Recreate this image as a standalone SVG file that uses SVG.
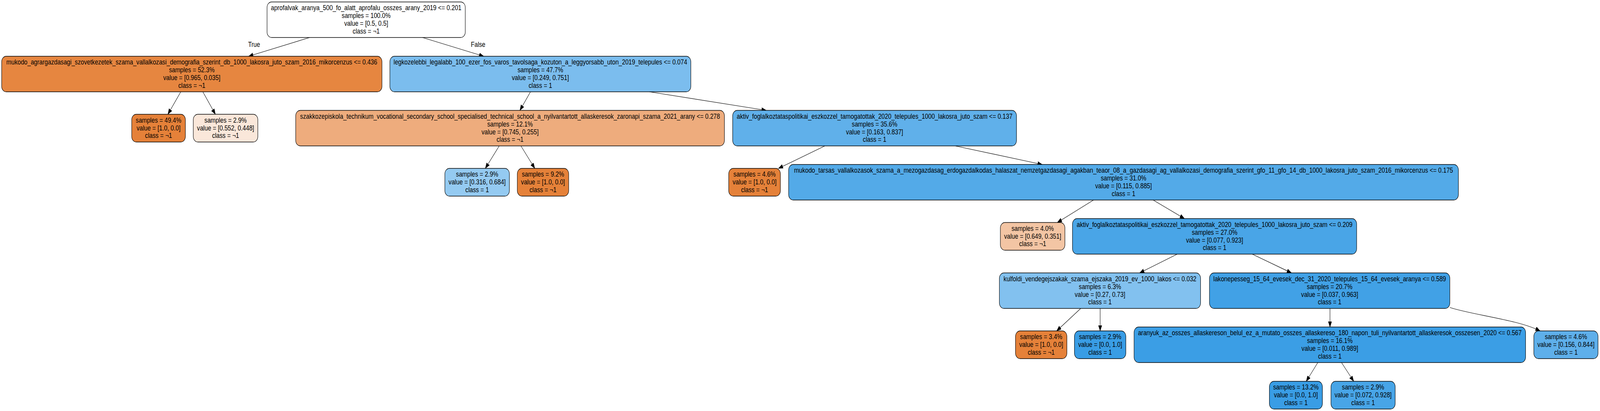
<svg xmlns="http://www.w3.org/2000/svg" width="4859" height="1052" viewBox="0 0 4859 1052" preserveAspectRatio="none" style="width:100vw;height:100vh">
<style>
.n rect{stroke:#000;stroke-width:1.3;rx:14px;ry:14px}
text{font-family:"Liberation Sans",Arial,Helvetica,sans-serif;font-size:18px;fill:#000;text-anchor:middle}
.e path{fill:none;stroke:#000;stroke-width:1.2;marker-end:url(#ah)}
</style>
<defs>
<marker id="ah" markerUnits="userSpaceOnUse" markerWidth="15" markerHeight="11" refX="14" refY="5.2" orient="auto">
<path d="M0,0 L14,5.2 L0,10.4 z" fill="#000" stroke="#000" stroke-width="0.8"/>
</marker>
</defs>
<rect width="4859" height="1052" fill="#fff"/>
<g id="edges" class="e">
<path d="M940.5,96 L755,144"/>
<path d="M1283,96 L1469,144"/>
<path d="M549,235 L510,292.5"/>
<path d="M616,235 L654,292.5"/>
<path d="M1611,235 L1579,282.5"/>
<path d="M1972,235 L2327,282.5"/>
<path d="M1516,373.5 L1474,431"/>
<path d="M1582,373.5 L1624,431"/>
<path d="M2505,373.5 L2364,431"/>
<path d="M2901,373.5 L3165,421"/>
<path d="M3321,512 L3211,569.5"/>
<path d="M3502,512 L3597,559.5"/>
<path d="M3575,650.5 L3461,698.5"/>
<path d="M3803,650.5 L3922,698.5"/>
<path d="M3282,789.5 L3209,847"/>
<path d="M3341,789.5 L3341,847"/>
<path d="M4039,789.5 L4039,837"/>
<path d="M4403,787 C4470,806 4610,818 4677,847"/>
<path d="M4002,928 L3967,976"/>
<path d="M4074,928 L4111,976"/>
<text x="771.6" y="120.5">True</text>
<text x="1452" y="120.5">False</text>
</g>
<g id="node0" class="n"><rect x="811" y="5" width="602" height="91" fill="#ffffff"/>
<text x="1112" y="26.5">aprofalvak_aranya_500_fo_alatt_aprofalu_osszes_arany_2019 &lt;= 0.201</text>
<text x="1112" y="46.3">samples = 100.0%</text>
<text x="1112" y="66.1">value = [0.5, 0.5]</text>
<text x="1112" y="85.9">class = ¬1</text></g>
<g id="node1" class="n"><rect x="5" y="144" width="1155" height="91" fill="#e68640"/>
<text x="582.5" y="165.5">mukodo_agrargazdasagi_szovetkezetek_szama_vallalkozasi_demografia_szerint_db_1000_lakosra_juto_szam_2016_mikorcenzus &lt;= 0.436</text>
<text x="582.5" y="185.3">samples = 52.3%</text>
<text x="582.5" y="205.1">value = [0.965, 0.035]</text>
<text x="582.5" y="224.9">class = ¬1</text></g>
<g id="node2" class="n"><rect x="400" y="292.5" width="163" height="71" fill="#e58139"/>
<text x="481.5" y="313.9">samples = 49.4%</text>
<text x="481.5" y="333.7">value = [1.0, 0.0]</text>
<text x="481.5" y="353.5">class = ¬1</text></g>
<g id="node3" class="n"><rect x="587" y="292.5" width="196" height="71" fill="#fae7da"/>
<text x="685" y="313.9">samples = 2.9%</text>
<text x="685" y="333.7">value = [0.552, 0.448]</text>
<text x="685" y="353.5">class = ¬1</text></g>
<g id="node4" class="n"><rect x="1184" y="144" width="914" height="91" fill="#7bbdee"/>
<text x="1641" y="165.5">legkozelebbi_legalabb_100_ezer_fos_varos_tavolsaga_kozuton_a_leggyorsabb_uton_2019_telepules &lt;= 0.074</text>
<text x="1641" y="185.3">samples = 47.7%</text>
<text x="1641" y="205.1">value = [0.249, 0.751]</text>
<text x="1641" y="224.9">class = 1</text></g>
<g id="node5" class="n"><rect x="898" y="282.5" width="1302" height="91" fill="#eeac7d"/>
<text x="1549" y="304">szakkozepiskola_technikum_vocational_secondary_school_specialised_technical_school_a_nyilvantartott_allaskeresok_zaronapi_szama_2021_arany &lt;= 0.278</text>
<text x="1549" y="323.8">samples = 12.1%</text>
<text x="1549" y="343.6">value = [0.745, 0.255]</text>
<text x="1549" y="363.4">class = ¬1</text></g>
<g id="node6" class="n"><rect x="1351" y="431" width="196" height="71" fill="#94caf1"/>
<text x="1449" y="452.4">samples = 2.9%</text>
<text x="1449" y="472.2">value = [0.316, 0.684]</text>
<text x="1449" y="492">class = 1</text></g>
<g id="node7" class="n"><rect x="1571" y="431" width="156" height="71" fill="#e58139"/>
<text x="1649" y="452.4">samples = 9.2%</text>
<text x="1649" y="472.2">value = [1.0, 0.0]</text>
<text x="1649" y="492">class = ¬1</text></g>
<g id="node8" class="n"><rect x="2225" y="282.5" width="862" height="91" fill="#60b0ea"/>
<text x="2656" y="304">aktiv_foglalkoztataspolitikai_eszkozzel_tamogatottak_2020_telepules_1000_lakosra_juto_szam &lt;= 0.137</text>
<text x="2656" y="323.8">samples = 35.6%</text>
<text x="2656" y="343.6">value = [0.163, 0.837]</text>
<text x="2656" y="363.4">class = 1</text></g>
<g id="node9" class="n"><rect x="2213" y="431" width="157" height="71" fill="#e58139"/>
<text x="2291.5" y="452.4">samples = 4.6%</text>
<text x="2291.5" y="472.2">value = [1.0, 0.0]</text>
<text x="2291.5" y="492">class = ¬1</text></g>
<g id="node10" class="n"><rect x="2395" y="421" width="2034" height="91" fill="#53aae8"/>
<text x="3412" y="442.5">mukodo_tarsas_vallalkozasok_szama_a_mezogazdasag_erdogazdalkodas_halaszat_nemzetgazdasagi_agakban_teaor_08_a_gazdasagi_ag_vallalkozasi_demografia_szerint_gfo_11_gfo_14_db_1000_lakosra_juto_szam_2016_mikorcenzus &lt;= 0.175</text>
<text x="3412" y="462.3">samples = 31.0%</text>
<text x="3412" y="482.1">value = [0.115, 0.885]</text>
<text x="3412" y="501.9">class = 1</text></g>
<g id="node11" class="n"><rect x="3038" y="569.5" width="196" height="71" fill="#f3c5a4"/>
<text x="3136" y="590.9">samples = 4.0%</text>
<text x="3136" y="610.7">value = [0.649, 0.351]</text>
<text x="3136" y="630.5">class = ¬1</text></g>
<g id="node12" class="n"><rect x="3257" y="559.5" width="863" height="91" fill="#49a5e7"/>
<text x="3688.5" y="581">aktiv_foglalkoztataspolitikai_eszkozzel_tamogatottak_2020_telepules_1000_lakosra_juto_szam &lt;= 0.209</text>
<text x="3688.5" y="600.8">samples = 27.0%</text>
<text x="3688.5" y="620.6">value = [0.077, 0.923]</text>
<text x="3688.5" y="640.4">class = 1</text></g>
<g id="node13" class="n"><rect x="3035" y="698.5" width="611" height="91" fill="#82c1ef"/>
<text x="3340.5" y="720">kulfoldi_vendegejszakak_szama_ejszaka_2019_ev_1000_lakos &lt;= 0.032</text>
<text x="3340.5" y="739.8">samples = 6.3%</text>
<text x="3340.5" y="759.6">value = [0.27, 0.73]</text>
<text x="3340.5" y="779.4">class = 1</text></g>
<g id="node14" class="n"><rect x="3084" y="847" width="156" height="71" fill="#e58139"/>
<text x="3162" y="868.4">samples = 3.4%</text>
<text x="3162" y="888.2">value = [1.0, 0.0]</text>
<text x="3162" y="908">class = ¬1</text></g>
<g id="node15" class="n"><rect x="3263" y="847" width="156" height="71" fill="#399de5"/>
<text x="3341" y="868.4">samples = 2.9%</text>
<text x="3341" y="888.2">value = [0.0, 1.0]</text>
<text x="3341" y="908">class = 1</text></g>
<g id="node16" class="n"><rect x="3673" y="698.5" width="730" height="91" fill="#41a1e6"/>
<text x="4038" y="720">lakonepesseg_15_64_evesek_dec_31_2020_telepules_15_64_evesek_aranya &lt;= 0.589</text>
<text x="4038" y="739.8">samples = 20.7%</text>
<text x="4038" y="759.6">value = [0.037, 0.963]</text>
<text x="4038" y="779.4">class = 1</text></g>
<g id="node17" class="n"><rect x="3444" y="837" width="1189" height="91" fill="#3b9ee5"/>
<text x="4038.5" y="858.5">aranyuk_az_osszes_allaskereson_belul_ez_a_mutato_osszes_allaskereso_180_napon_tuli_nyilvantartott_allaskeresok_osszesen_2020 &lt;= 0.567</text>
<text x="4038.5" y="878.3">samples = 16.1%</text>
<text x="4038.5" y="898.1">value = [0.011, 0.989]</text>
<text x="4038.5" y="917.9">class = 1</text></g>
<g id="node18" class="n"><rect x="3855" y="976" width="161" height="71" fill="#399de5"/>
<text x="3935.5" y="997.4">samples = 13.2%</text>
<text x="3935.5" y="1017.2">value = [0.0, 1.0]</text>
<text x="3935.5" y="1037">class = 1</text></g>
<g id="node19" class="n"><rect x="4042" y="976" width="195" height="71" fill="#48a5e7"/>
<text x="4139.5" y="997.4">samples = 2.9%</text>
<text x="4139.5" y="1017.2">value = [0.072, 0.928]</text>
<text x="4139.5" y="1037">class = 1</text></g>
<g id="node20" class="n"><rect x="4658" y="847" width="195" height="71" fill="#5eafea"/>
<text x="4755.5" y="868.4">samples = 4.6%</text>
<text x="4755.5" y="888.2">value = [0.156, 0.844]</text>
<text x="4755.5" y="908">class = 1</text></g>
</svg>
